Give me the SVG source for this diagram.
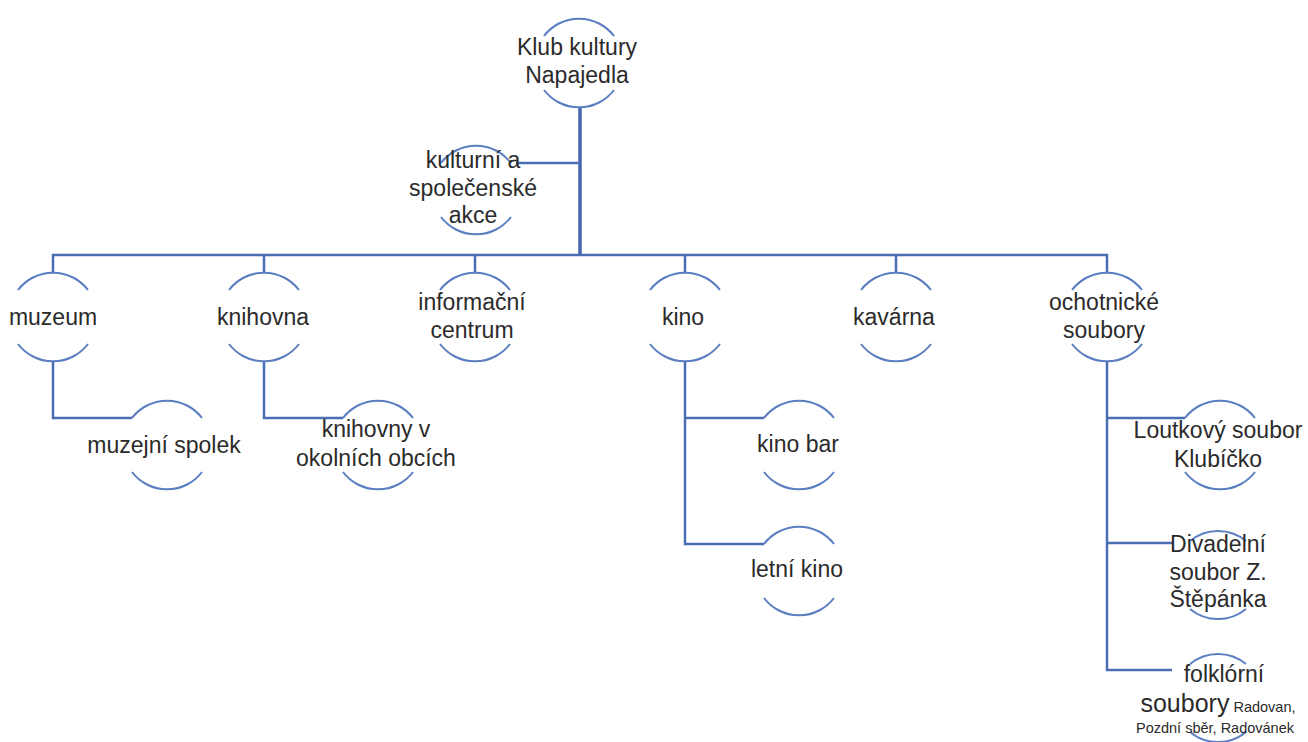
<svg xmlns="http://www.w3.org/2000/svg" width="1308" height="742" viewBox="0 0 1308 742">
<style>
.arc{fill:none;stroke:#5a7ec0;stroke-width:2}
.ln{fill:none;stroke:#4a6db4;stroke-width:2.5}
.trunk{fill:none;stroke:#4566ad;stroke-width:3.5}
text{font-family:"Liberation Sans",Arial,sans-serif;font-size:23px;fill:#2b2b2b;text-anchor:middle}
.sm{font-size:14.5px}
.big{font-size:25px}
</style>
<rect width="1308" height="742" fill="#ffffff"/>
<g id="connectors">
<path class="trunk" d="M580,107 V256"/>
<path class="ln" d="M580,163 H516"/>
<path class="ln" d="M53,273 V255 H1107 V273"/>
<path class="ln" d="M264,255 V273 M475,255 V273 M685,255 V273 M896,255 V273"/>
<path class="ln" d="M53,361 V418 H132"/>
<path class="ln" d="M264,361 V418 H343"/>
<path class="ln" d="M685,361 V544 H764 M685,418 H764"/>
<path class="ln" d="M1107,361 V670 H1172 M1107,418 H1185 M1107,543 H1172"/>
</g>
<g id="root">
<path class="arc" d="M544,36 A44 44 0 0 1 614,36 M544,90 A44 44 0 0 0 614,90"/>
<text x="577" y="55">Klub kultury</text>
<text x="577" y="83">Napajedla</text>
</g>
<g id="kulturni">
<path class="arc" d="M441,163 A44 44 0 0 1 511,163 M441,217 A44 44 0 0 0 511,217"/>
<text x="473" y="168">kulturní a</text>
<text x="473" y="196">společenské</text>
<text x="473" y="223">akce</text>
</g>
<g id="muzeum">
<path class="arc" d="M18,290 A44 44 0 0 1 88,290 M18,344 A44 44 0 0 0 88,344"/>
<text x="53" y="325">muzeum</text>
</g>
<g id="knihovna">
<path class="arc" d="M229,290 A44 44 0 0 1 299,290 M229,344 A44 44 0 0 0 299,344"/>
<text x="263" y="325">knihovna</text>
</g>
<g id="informacni">
<path class="arc" d="M440,290 A44 44 0 0 1 510,290 M440,344 A44 44 0 0 0 510,344"/>
<text x="472" y="310">informační</text>
<text x="472" y="338">centrum</text>
</g>
<g id="kino">
<path class="arc" d="M650,290 A44 44 0 0 1 720,290 M650,344 A44 44 0 0 0 720,344"/>
<text x="683" y="325">kino</text>
</g>
<g id="kavarna">
<path class="arc" d="M861,290 A44 44 0 0 1 931,290 M861,344 A44 44 0 0 0 931,344"/>
<text x="894" y="325">kavárna</text>
</g>
<g id="ochotnicke">
<path class="arc" d="M1072,290 A44 44 0 0 1 1142,290 M1072,344 A44 44 0 0 0 1142,344"/>
<text x="1104" y="310">ochotnické</text>
<text x="1104" y="338">soubory</text>
</g>
<g id="muzejni-spolek">
<path class="arc" d="M132,418 A44 44 0 0 1 202,418 M132,472 A44 44 0 0 0 202,472"/>
<text x="164" y="453">muzejní  spolek</text>
</g>
<g id="knihovny-obce">
<path class="arc" d="M343,418 A44 44 0 0 1 413,418 M343,472 A44 44 0 0 0 413,472"/>
<text x="376" y="437">knihovny v</text>
<text x="376" y="466">okolních obcích</text>
</g>
<g id="kino-bar">
<path class="arc" d="M764,418 A44 44 0 0 1 834,418 M764,472 A44 44 0 0 0 834,472"/>
<text x="798" y="452">kino bar</text>
</g>
<g id="letni-kino">
<path class="arc" d="M764,544 A44 44 0 0 1 834,544 M764,598 A44 44 0 0 0 834,598"/>
<text x="797" y="577">letní kino</text>
</g>
<g id="loutkovy">
<path class="arc" d="M1185,418 A44 44 0 0 1 1255,418 M1185,472 A44 44 0 0 0 1255,472"/>
<text x="1218" y="438">Loutkový soubor</text>
<text x="1218" y="467">Klubíčko</text>
</g>
<g id="divadelni">
<path class="arc" d="M1190,541 A44 44 0 0 1 1246,541 M1190,609 A44 44 0 0 0 1246,609"/>
<text x="1218" y="552">Divadelní</text>
<text x="1218" y="580">soubor Z.</text>
<text x="1218" y="607">Štěpánka</text>
</g>
<g id="folklorni">
<path class="arc" d="M1190,664 A44 44 0 0 1 1246,664 M1190,732 A44 44 0 0 0 1246,732"/>
<text x="1224" y="682">folklórní</text>
<text x="1218" y="712"><tspan class="big">soubory</tspan><tspan class="sm"> Radovan,</tspan></text>
<text class="sm" x="1215" y="733">Pozdní sběr, Radovánek</text>
</g>
</svg>
